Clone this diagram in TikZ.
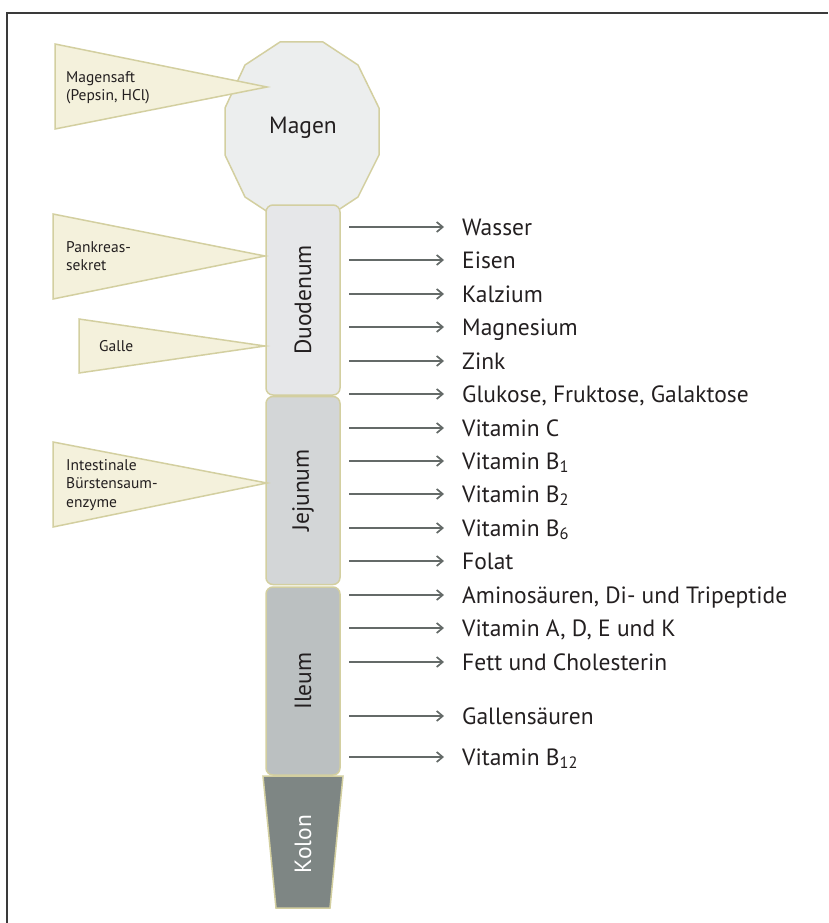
\documentclass[tikz,border=0pt]{standalone}
\usepackage{fontspec}
\setmainfont{PT Sans}
\usetikzlibrary{arrows.meta}

\definecolor{framegray}{HTML}{3A3A3A}
\definecolor{rimkhaki}{HTML}{D3CFA0}
\definecolor{juicefill}{HTML}{F4F1DC}
\definecolor{magenfill}{HTML}{ECEEEE}
\definecolor{duofill}{HTML}{E6E7E9}
\definecolor{jejfill}{HTML}{D3D6D7}
\definecolor{ilefill}{HTML}{BBC0C1}
\definecolor{kolfill}{HTML}{7E8684}
\definecolor{arrowgray}{HTML}{646A68}
\definecolor{inkdark}{HTML}{231F20}

\tikzset{
  organ/.style={draw=rimkhaki, line width=1.5pt},
  segment/.style={organ, rounded corners=7pt, rotate=90, minimum height=74pt,
    font=\fontsize{23.5}{27}\selectfont, text=inkdark},
  juice/.style={draw=rimkhaki, fill=juicefill, line width=1.5pt},
  juicetext/.style={font=\fontsize{15.5}{18.5}\selectfont, text=inkdark, align=left,
    anchor=west, inner sep=3pt},
  stofftext/.style={font=\fontsize{23.5}{27}\selectfont, text=inkdark, anchor=west,
    inner sep=3pt, text height=16.5pt, text depth=0pt},
  absorb/.style={draw=arrowgray, line width=1.7pt, shorten >=15pt,
    -{Straight Barb[length=6pt, width=10pt]}}
}

\begin{document}
\begin{tikzpicture}[x=1pt, y=-1pt]
  \useasboundingbox (0,0) rectangle (828,923);

  % Rahmen
  \draw[framegray, line width=2pt] (7,923) -- (7,13) -- (828,13);

  % Magen
  \draw[organ, fill=magenfill] (280,42) -- (323,42) -- (358,65) -- (379,108)
    -- (379,155) -- (358,197) -- (323,220) -- (280,220) -- (245,197)
    -- (225,155) -- (225,108) -- (245,65) -- cycle;
  \node[font=\fontsize{23.5}{27}\selectfont, text=inkdark] (magen) at (303,128) {Magen};

  % Kolon und Duenndarm
  \draw[organ, fill=kolfill] (263,776) -- (343,776) -- (330,908) -- (276,908) -- cycle;
  \node[font=\fontsize{23.5}{27}\selectfont, text=white, rotate=90] (kolon) at (303,844) {Kolon};

  \node[segment, fill=duofill, minimum width=190pt] (duodenum) at (303,300) {Duodenum};
  \node[segment, fill=jejfill, minimum width=188pt] (jejunum) at (303,490.5) {Jejunum};
  \node[segment, fill=ilefill, minimum width=188pt] (ileum) at (303,681) {Ileum};

  % Verdauungssaefte
  \draw[juice] (55,44) -- (267,87) -- (55,129) -- cycle;
  \node[juicetext] (magensaft) at (63,87.5) {Magensaft\\(Pepsin, HCl)};

  \draw[juice] (53,214) -- (265,256) -- (53,299) -- cycle;
  \node[juicetext] (pankreas) at (63,256) {Pankreas-\\sekret};

  \draw[juice] (79,319) -- (265,346) -- (79,373) -- cycle;
  \node[juicetext] (galle) at (96,346) {Galle};

  \draw[juice] (53,442) -- (267,483) -- (53,527) -- cycle;
  \node[juicetext] (enzyme) at (63,485) {Intestinale\\Bürstensaum-\\enzyme};

  % Resorption
  \foreach \y/\stoff [count=\i] in {227/Wasser, 260/Eisen, 294/Kalzium,
      327/Magnesium, 361/Zink, 394/{Glukose, Fruktose, Galaktose},
      428/Vitamin C, 461/Vitamin B\textsubscript{1}, 494/Vitamin B\textsubscript{2},
      528/Vitamin B\textsubscript{6}, 561/Folat,
      595/{Aminosäuren, Di- und Tripeptide}, 628/{Vitamin A, D, E und K},
      662/Fett und Cholesterin, 716/Gallensäuren,
      757/Vitamin B\textsubscript{12}} {
    \coordinate (von\i) at (349,\y);
    \node[stofftext] (stoff\i) at (459,\y) {\stoff};
    \draw[absorb] (von\i) -- (stoff\i.west);
  }
\end{tikzpicture}
\end{document}
